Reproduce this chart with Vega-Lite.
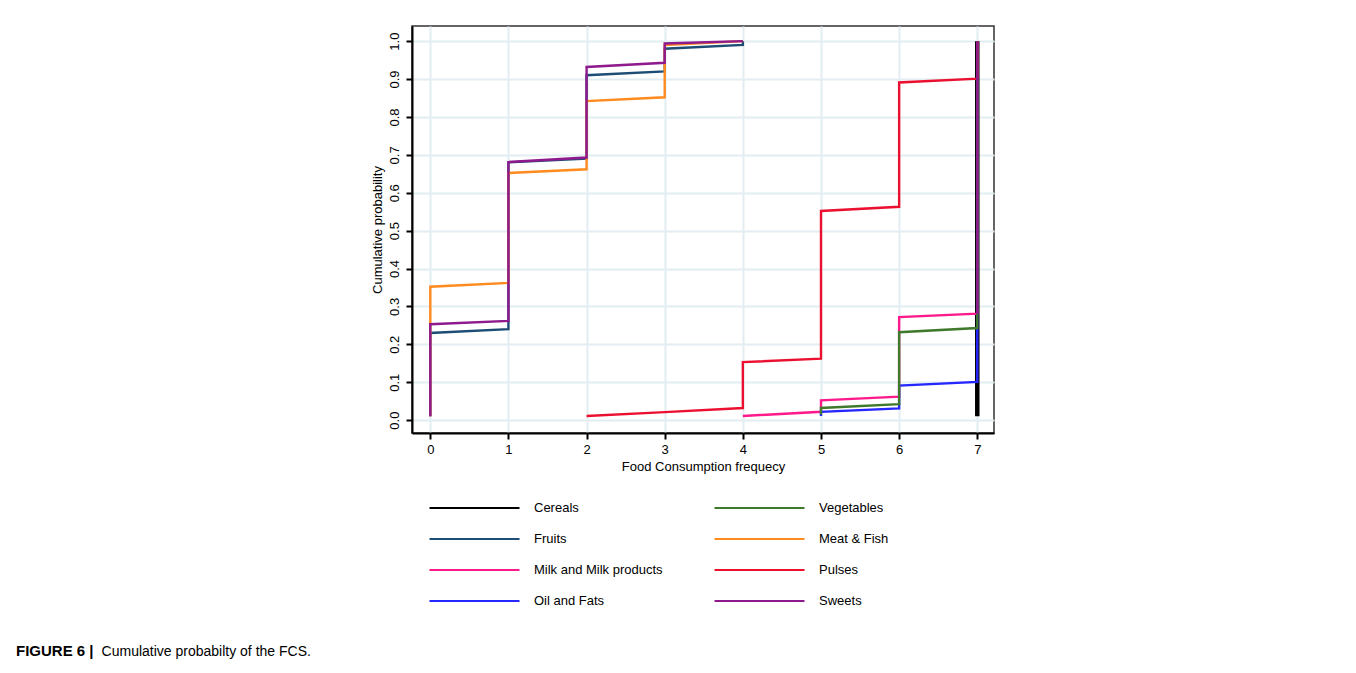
{
  "$schema": "https://vega.github.io/schema/vega-lite/v6.json",
  "autosize": "none",
  "width": 582,
  "height": 407,
  "padding": {"left": 412, "top": 26, "right": 362, "bottom": 240},
  "background": "white",
  "title": {
    "text": "FIGURE 6 |",
    "subtitle": "\u200b\u00a0\u00a0\u00a0\u00a0\u00a0\u00a0\u00a0\u00a0\u00a0\u00a0\u00a0\u00a0\u00a0\u00a0\u00a0\u00a0\u00a0\u00a0\u00a0\u00a0\u00a0\u00a0Cumulative probabilty of the FCS.",
    "orient": "bottom",
    "anchor": "start",
    "frame": "group",
    "dx": -396,
    "offset": 35,
    "font": "Liberation Sans",
    "fontSize": 15,
    "fontWeight": "bold",
    "color": "#000000",
    "subtitleFont": "Liberation Sans",
    "subtitleFontSize": 14,
    "subtitleFontWeight": "normal",
    "subtitleColor": "#000000",
    "subtitlePadding": -14
  },
  "config": {
    "view": {"stroke": "#333333", "strokeWidth": 1.5},
    "axis": {
      "labelFont": "Liberation Sans",
      "labelFontSize": 13,
      "labelColor": "#000000",
      "titleFont": "Liberation Sans",
      "titleFontSize": 13,
      "titleFontWeight": "normal",
      "titleColor": "#000000",
      "domainColor": "#000000",
      "domainWidth": 2,
      "tickColor": "#000000",
      "tickWidth": 2,
      "tickSize": 6,
      "gridColor": "#e2eef2",
      "gridWidth": 2,
      "gridOpacity": 1
    },
    "legend": {
      "labelFont": "Liberation Sans",
      "labelFontSize": 13,
      "labelColor": "#000000"
    }
  },
  "data": {
    "values": [
      {"s": "Cereals", "g": 1, "o": 1, "x": 7, "y": 0.01},
      {"s": "Cereals", "g": 1, "o": 2, "x": 7, "y": 1.0},

      {"s": "Fruits", "g": 1, "o": 1, "x": 0, "y": 0.01},
      {"s": "Fruits", "g": 1, "o": 2, "x": 0, "y": 0.23},
      {"s": "Fruits", "g": 1, "o": 3, "x": 1, "y": 0.24},
      {"s": "Fruits", "g": 1, "o": 4, "x": 1, "y": 0.68},
      {"s": "Fruits", "g": 1, "o": 5, "x": 2, "y": 0.69},
      {"s": "Fruits", "g": 1, "o": 6, "x": 2, "y": 0.91},
      {"s": "Fruits", "g": 1, "o": 7, "x": 3, "y": 0.92},
      {"s": "Fruits", "g": 1, "o": 8, "x": 3, "y": 0.98},
      {"s": "Fruits", "g": 1, "o": 9, "x": 4, "y": 0.99},
      {"s": "Fruits", "g": 1, "o": 10, "x": 4, "y": 1.0},

      {"s": "Milk and Milk products", "g": 1, "o": 1, "x": 4, "y": 0.011},
      {"s": "Milk and Milk products", "g": 1, "o": 2, "x": 5, "y": 0.022},
      {"s": "Milk and Milk products", "g": 1, "o": 3, "x": 5, "y": 0.052},
      {"s": "Milk and Milk products", "g": 1, "o": 4, "x": 6, "y": 0.062},
      {"s": "Milk and Milk products", "g": 1, "o": 5, "x": 6, "y": 0.272},
      {"s": "Milk and Milk products", "g": 1, "o": 6, "x": 7, "y": 0.281},
      {"s": "Milk and Milk products", "g": 1, "o": 7, "x": 7, "y": 1.0},

      {"s": "Oil and Fats", "g": 1, "o": 1, "x": 5, "y": 0.011},
      {"s": "Oil and Fats", "g": 1, "o": 2, "x": 5, "y": 0.022},
      {"s": "Oil and Fats", "g": 1, "o": 3, "x": 6, "y": 0.031},
      {"s": "Oil and Fats", "g": 1, "o": 4, "x": 6, "y": 0.091},
      {"s": "Oil and Fats", "g": 1, "o": 5, "x": 7, "y": 0.101},
      {"s": "Oil and Fats", "g": 1, "o": 6, "x": 7, "y": 1.0},

      {"s": "Vegetables", "g": 1, "o": 1, "x": 5, "y": 0.015},
      {"s": "Vegetables", "g": 1, "o": 2, "x": 5, "y": 0.032},
      {"s": "Vegetables", "g": 1, "o": 3, "x": 6, "y": 0.042},
      {"s": "Vegetables", "g": 1, "o": 4, "x": 6, "y": 0.232},
      {"s": "Vegetables", "g": 1, "o": 5, "x": 7, "y": 0.243},
      {"s": "Vegetables", "g": 1, "o": 6, "x": 7, "y": 1.0},

      {"s": "Meat & Fish", "g": 1, "o": 1, "x": 0, "y": 0.01},
      {"s": "Meat & Fish", "g": 1, "o": 2, "x": 0, "y": 0.352},
      {"s": "Meat & Fish", "g": 1, "o": 3, "x": 1, "y": 0.362},
      {"s": "Meat & Fish", "g": 1, "o": 4, "x": 1, "y": 0.652},
      {"s": "Meat & Fish", "g": 1, "o": 5, "x": 2, "y": 0.662},
      {"s": "Meat & Fish", "g": 1, "o": 6, "x": 2, "y": 0.842},
      {"s": "Meat & Fish", "g": 1, "o": 7, "x": 3, "y": 0.852},
      {"s": "Meat & Fish", "g": 1, "o": 8, "x": 3, "y": 0.99},
      {"s": "Meat & Fish", "g": 1, "o": 9, "x": 4, "y": 1.0},

      {"s": "Pulses", "g": 1, "o": 1, "x": 2, "y": 0.011},
      {"s": "Pulses", "g": 1, "o": 2, "x": 3, "y": 0.021},
      {"s": "Pulses", "g": 1, "o": 3, "x": 4, "y": 0.032},
      {"s": "Pulses", "g": 1, "o": 4, "x": 4, "y": 0.153},
      {"s": "Pulses", "g": 1, "o": 5, "x": 5, "y": 0.162},
      {"s": "Pulses", "g": 1, "o": 6, "x": 5, "y": 0.552},
      {"s": "Pulses", "g": 1, "o": 7, "x": 6, "y": 0.563},
      {"s": "Pulses", "g": 1, "o": 8, "x": 6, "y": 0.891},
      {"s": "Pulses", "g": 1, "o": 9, "x": 7, "y": 0.901},
      {"s": "Pulses", "g": 1, "o": 10, "x": 7, "y": 1.0},

      {"s": "Sweets", "g": 1, "o": 1, "x": 0, "y": 0.01},
      {"s": "Sweets", "g": 1, "o": 2, "x": 0, "y": 0.253},
      {"s": "Sweets", "g": 1, "o": 3, "x": 1, "y": 0.262},
      {"s": "Sweets", "g": 1, "o": 4, "x": 1, "y": 0.681},
      {"s": "Sweets", "g": 1, "o": 5, "x": 2, "y": 0.693},
      {"s": "Sweets", "g": 1, "o": 6, "x": 2, "y": 0.932},
      {"s": "Sweets", "g": 1, "o": 7, "x": 3, "y": 0.943},
      {"s": "Sweets", "g": 1, "o": 8, "x": 3, "y": 0.994},
      {"s": "Sweets", "g": 1, "o": 9, "x": 4, "y": 1.0},
      {"s": "Sweets", "g": 2, "o": 1, "x": 7, "y": 0.28},
      {"s": "Sweets", "g": 2, "o": 2, "x": 7, "y": 1.0}
    ]
  },
  "mark": {"type": "line", "strokeCap": "butt", "strokeJoin": "miter"},
  "encoding": {
    "x": {
      "field": "x",
      "type": "quantitative",
      "scale": {"domain": [-0.234, 7.214], "nice": false, "zero": false},
      "axis": {"values": [0, 1, 2, 3, 4, 5, 6, 7], "title": "Food Consumption frequecy", "labelPadding": 4, "titlePadding": 4, "labelFlush": false}
    },
    "y": {
      "field": "y",
      "type": "quantitative",
      "scale": {"domain": [-0.034, 1.04], "nice": false, "zero": false},
      "axis": {"values": [0, 0.1, 0.2, 0.3, 0.4, 0.5, 0.6, 0.7, 0.8, 0.9, 1.0], "format": ".1f", "title": "Cumulative probability", "labelAngle": -90, "labelAlign": "center", "labelBaseline": "bottom", "labelPadding": 5, "titlePadding": 4, "labelFlush": false}
    },
    "color": {
      "field": "s",
      "type": "nominal",
      "scale": {
        "domain": ["Cereals", "Fruits", "Milk and Milk products", "Oil and Fats", "Vegetables", "Meat & Fish", "Pulses", "Sweets"],
        "range": ["#000000", "#1d4c74", "#ff1a8c", "#2626ff", "#3f7a2c", "#ff8a1e", "#ec1030", "#8e1a8e"]
      },
      "legend": {
        "title": null,
        "orient": "none",
        "legendX": 16,
        "legendY": 474,
        "columns": 2,
        "direction": "vertical",
        "symbolType": "stroke",
        "symbolSize": 8100,
        "symbolStrokeWidth": 2.2,
        "clipHeight": 16,
        "labelOffset": 13,
        "columnPadding": 50,
        "rowPadding": 15
      }
    },
    "strokeWidth": {
      "condition": {"test": "datum.s === 'Cereals'", "value": 4.5},
      "value": 2.4
    },
    "detail": {"field": "g", "type": "nominal"},
    "order": {"field": "o", "type": "quantitative"}
  }
}
